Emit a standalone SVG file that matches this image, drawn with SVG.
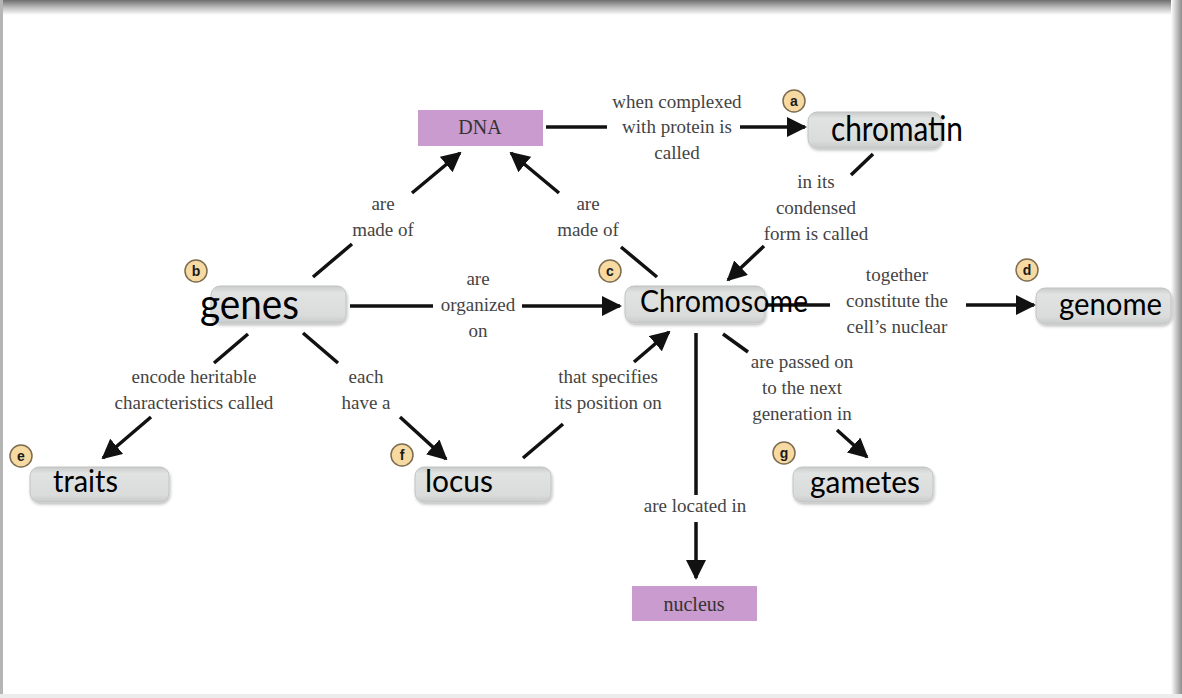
<svg xmlns="http://www.w3.org/2000/svg" width="1182" height="698" viewBox="0 0 1182 698">
<defs>
<linearGradient id="topShade" x1="0" y1="0" x2="0" y2="1"><stop offset="0" stop-color="#6e6e6e"/><stop offset="0.5" stop-color="#bdbdbd"/><stop offset="1" stop-color="#ffffff"/></linearGradient>
<linearGradient id="rightShade" x1="0" y1="0" x2="1" y2="0"><stop offset="0" stop-color="#ffffff"/><stop offset="1" stop-color="#8c8c8c"/></linearGradient>
<linearGradient id="boxFill" x1="0" y1="0" x2="0" y2="1"><stop offset="0" stop-color="#c9cbcb"/><stop offset="0.18" stop-color="#e1e3e3"/><stop offset="0.8" stop-color="#dadcdc"/><stop offset="1" stop-color="#c9cbcb"/></linearGradient>
<filter id="soft" x="-10%" y="-20%" width="120%" height="150%"><feGaussianBlur in="SourceAlpha" stdDeviation="1.5"/><feOffset dx="1" dy="2"/><feComponentTransfer><feFuncA type="linear" slope="0.25"/></feComponentTransfer><feMerge><feMergeNode/><feMergeNode in="SourceGraphic"/></feMerge></filter>
<marker id="ah" viewBox="0 0 20 20" refX="18" refY="10" markerWidth="20" markerHeight="20" markerUnits="userSpaceOnUse" orient="auto"><path d="M0,0 L20,10 L0,20 z" fill="#111"/></marker>
<style>
.box{fill:url(#boxFill);stroke:#c2c4c4;stroke-width:1;filter:url(#soft)}
.purple{fill:#c99bcf}
.big{font-family:Lato,"Open Sans","Liberation Sans",sans-serif;fill:#000}
.pt{font-family:"Liberation Serif","Times New Roman",serif;font-size:20px;fill:#333;text-anchor:middle}
.lbl{font-family:"Liberation Serif","Times New Roman",serif;font-size:19px;fill:#444;text-anchor:middle}
.badge circle{fill:#f7d9a2;stroke:#7d6c50;stroke-width:1.5}
.badge text{font-family:"Liberation Sans",Arial,sans-serif;font-weight:bold;font-size:14px;fill:#1a1a1a;text-anchor:middle}
.ln{stroke:#111;stroke-width:3.5;fill:none}
.arr{stroke:#111;stroke-width:3.5;fill:none;marker-end:url(#ah)}
</style>
</defs>
<rect x="0" y="0" width="1182" height="698" fill="#ffffff"/>
<g id="frame">
<rect x="0" y="0" width="1182" height="15" fill="url(#topShade)"/>
<rect x="1171" y="0" width="11" height="698" fill="url(#rightShade)"/>
<rect x="0" y="0" width="3" height="698" fill="#b5b5b5"/>
<rect x="0" y="694" width="1182" height="4" fill="#ececec"/>
</g>
<g id="connectors">
<line class="ln" x1="546" y1="127" x2="607" y2="127"/>
<line class="arr" x1="740" y1="127" x2="805" y2="127"/>
<text class="lbl" x="677" y="108">when complexed</text>
<text class="lbl" x="677" y="133">with protein is</text>
<text class="lbl" x="677" y="159">called</text>
<line class="ln" x1="873" y1="154" x2="851" y2="175"/>
<line class="arr" x1="764" y1="246" x2="728" y2="280"/>
<text class="lbl" x="816" y="188">in its</text>
<text class="lbl" x="816" y="214">condensed</text>
<text class="lbl" x="816" y="240">form is called</text>
<line class="ln" x1="313" y1="277" x2="352" y2="244"/>
<line class="arr" x1="412" y1="193" x2="460" y2="153"/>
<text class="lbl" x="383" y="210">are</text>
<text class="lbl" x="383" y="236">made of</text>
<line class="ln" x1="657" y1="277" x2="621" y2="247"/>
<line class="arr" x1="559" y1="193" x2="511" y2="153"/>
<text class="lbl" x="588" y="210">are</text>
<text class="lbl" x="588" y="236">made of</text>
<line class="ln" x1="350" y1="306" x2="433" y2="306"/>
<line class="arr" x1="522" y1="306" x2="620" y2="306"/>
<text class="lbl" x="478" y="285">are</text>
<text class="lbl" x="478" y="311">organized</text>
<text class="lbl" x="478" y="337">on</text>
<line class="ln" x1="765" y1="305" x2="830" y2="305"/>
<line class="arr" x1="966" y1="305" x2="1034" y2="305"/>
<text class="lbl" x="897" y="281">together</text>
<text class="lbl" x="897" y="307">constitute the</text>
<text class="lbl" x="897" y="333">cell’s nuclear</text>
<line class="ln" x1="248" y1="334" x2="214" y2="363"/>
<line class="arr" x1="151" y1="417" x2="103" y2="458"/>
<text class="lbl" x="194" y="383">encode heritable</text>
<text class="lbl" x="194" y="409">characteristics called</text>
<line class="ln" x1="303" y1="333" x2="338" y2="363"/>
<line class="arr" x1="400" y1="417" x2="446" y2="459"/>
<text class="lbl" x="366" y="383">each</text>
<text class="lbl" x="366" y="409">have a</text>
<line class="ln" x1="523" y1="458" x2="563" y2="424"/>
<line class="arr" x1="634" y1="362" x2="669" y2="332"/>
<text class="lbl" x="608" y="383">that specifies</text>
<text class="lbl" x="608" y="409">its position on</text>
<line class="ln" x1="696" y1="333" x2="696" y2="495"/>
<line class="arr" x1="696" y1="522" x2="696" y2="578"/>
<text class="lbl" x="695" y="512">are located in</text>
<line class="ln" x1="723" y1="334" x2="748" y2="352"/>
<line class="arr" x1="837" y1="430" x2="867" y2="457"/>
<text class="lbl" x="802" y="368">are passed on</text>
<text class="lbl" x="802" y="394">to the next</text>
<text class="lbl" x="802" y="420">generation in</text>
</g>
<g id="node-dna">
<rect class="purple" x="418" y="110" width="125" height="36"/>
<text class="pt" x="480" y="134">DNA</text>
</g>
<g id="node-chromatin">
<rect class="box" x="808" y="112" width="133" height="36" rx="9"/>
<g class="badge"><circle cx="794" cy="101" r="11"/><text x="794" y="106">a</text></g>
<text class="big" x="831" y="141" font-size="34" textLength="132" lengthAdjust="spacingAndGlyphs">chromatin</text>
</g>
<g id="node-genes">
<rect class="box" x="211" y="286" width="135" height="37" rx="9"/>
<g class="badge"><circle cx="196" cy="271" r="11"/><text x="196" y="276">b</text></g>
<text class="big" x="200" y="319" font-size="42" textLength="99" lengthAdjust="spacingAndGlyphs">genes</text>
</g>
<g id="node-chromosome">
<rect class="box" x="625" y="286" width="140" height="37" rx="9"/>
<g class="badge"><circle cx="610" cy="271" r="11"/><text x="610" y="276">c</text></g>
<text class="big" x="640" y="312" font-size="30" textLength="168" lengthAdjust="spacingAndGlyphs">Chromosome</text>
</g>
<g id="node-genome">
<rect class="box" x="1036" y="288" width="135" height="36" rx="9"/>
<g class="badge"><circle cx="1027" cy="270" r="11"/><text x="1027" y="275">d</text></g>
<text class="big" x="1059" y="315" font-size="31" textLength="103" lengthAdjust="spacingAndGlyphs">genome</text>
</g>
<g id="node-traits">
<rect class="box" x="30" y="467" width="139" height="35" rx="9"/>
<g class="badge"><circle cx="21" cy="456" r="11"/><text x="21" y="461">e</text></g>
<text class="big" x="53" y="492" font-size="30" textLength="65" lengthAdjust="spacingAndGlyphs">traits</text>
</g>
<g id="node-locus">
<rect class="box" x="415" y="467" width="136" height="35" rx="9"/>
<g class="badge"><circle cx="402" cy="455" r="11"/><text x="402" y="460">f</text></g>
<text class="big" x="425" y="492" font-size="30" textLength="68" lengthAdjust="spacingAndGlyphs">locus</text>
</g>
<g id="node-gametes">
<rect class="box" x="793" y="467" width="140" height="35" rx="9"/>
<g class="badge"><circle cx="784" cy="453" r="11"/><text x="784" y="458">g</text></g>
<text class="big" x="810" y="493" font-size="30" textLength="110" lengthAdjust="spacingAndGlyphs">gametes</text>
</g>
<g id="node-nucleus">
<rect class="purple" x="632" y="586" width="125" height="35"/>
<text class="pt" x="694" y="611">nucleus</text>
</g>
</svg>
